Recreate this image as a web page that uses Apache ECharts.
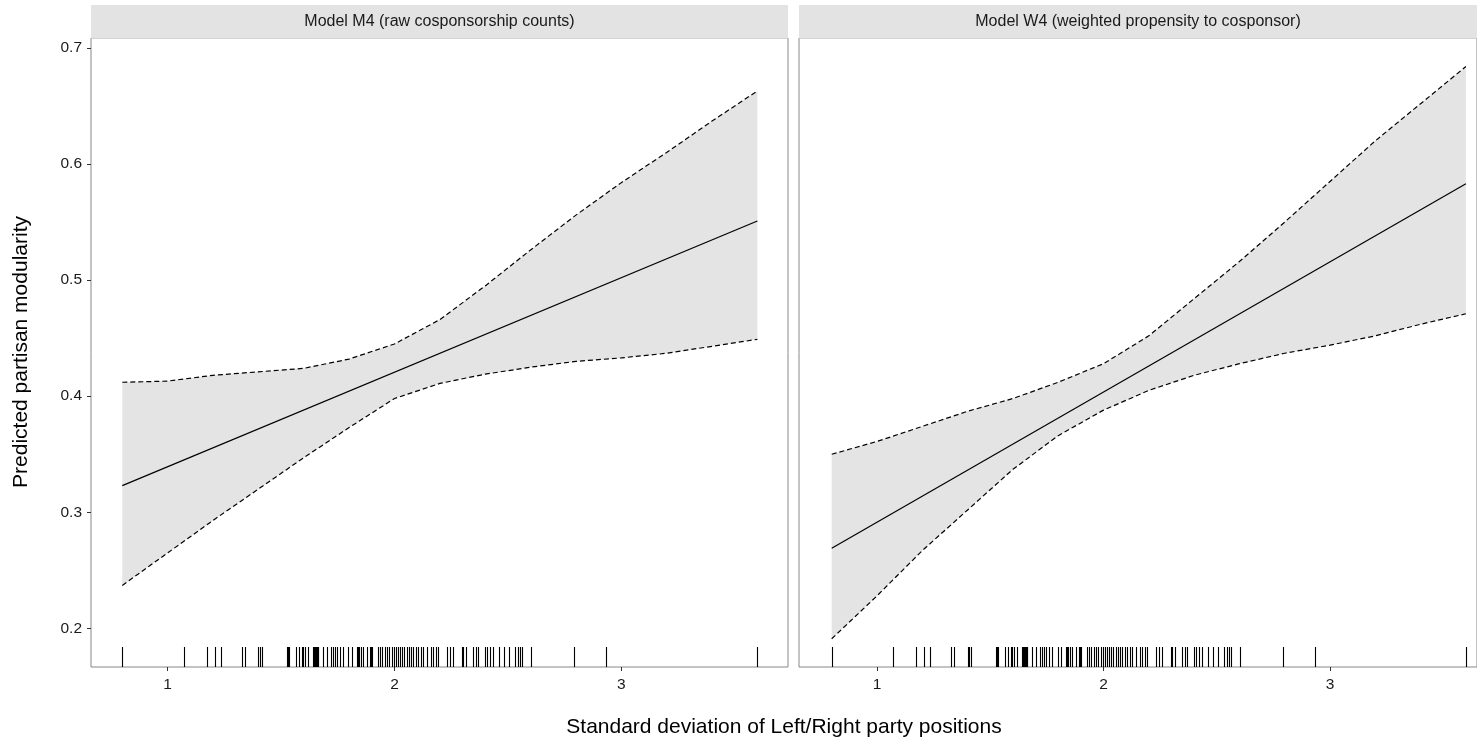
<!DOCTYPE html>
<html>
<head>
<meta charset="utf-8">
<script src="https://cdn.jsdelivr.net/npm/echarts@6/dist/echarts.min.js"></script>
<style>html,body{margin:0;padding:0;background:#fff;}#c{width:1477px;height:742px;}</style>
</head>
<body>
<div id="c"></div>
<script>
// ---------- data ----------
const panelTitles = ["Model M4 (raw cosponsorship counts)", "Model W4 (weighted propensity to cosponsor)"];
const xTitle = "Standard deviation of Left/Right party positions";
const yTitle = "Predicted partisan modularity";
const xTicks = [1, 2, 3];
const yTicks = [0.2, 0.3, 0.4, 0.5, 0.6, 0.7];

const xSeq = [0.8, 1.0, 1.2, 1.4, 1.6, 1.8, 2.0, 2.2, 2.4, 2.6, 2.8, 3.0, 3.2, 3.4, 3.6];
const fitX = [0.8, 3.6];

const m4Fit = [0.323, 0.551];
const m4Upper = [0.412, 0.413, 0.418, 0.421, 0.424, 0.432, 0.445, 0.466, 0.495, 0.526, 0.556, 0.584, 0.610, 0.637, 0.663];
const m4Lower = [0.237, 0.265, 0.293, 0.320, 0.347, 0.373, 0.398, 0.411, 0.419, 0.425, 0.430, 0.433, 0.437, 0.443, 0.449];

const w4Fit = [0.269, 0.583];
const w4Upper = [0.350, 0.361, 0.374, 0.387, 0.398, 0.412, 0.428, 0.452, 0.484, 0.516, 0.550, 0.585, 0.620, 0.652, 0.684];
const w4Lower = [0.191, 0.228, 0.267, 0.302, 0.337, 0.366, 0.388, 0.405, 0.418, 0.428, 0.437, 0.444, 0.452, 0.462, 0.471];

const rugX = [0.8, 1.072, 1.173, 1.209, 1.234, 1.326, 1.341, 1.400, 1.405, 1.415,
  1.525, 1.530, 1.535, 1.566, 1.580, 1.591, 1.598, 1.606, 1.620, 1.642, 1.646, 1.650, 1.654, 1.657, 1.661, 1.664,
  1.686, 1.701, 1.719, 1.728, 1.738, 1.745, 1.760, 1.774, 1.797, 1.811, 1.834, 1.839, 1.844,
  1.852, 1.863, 1.880, 1.892, 1.896, 1.899, 1.929, 1.936, 1.946, 1.958, 1.965, 1.976, 1.988,
  1.998, 2.007, 2.017, 2.024, 2.035, 2.043, 2.054, 2.064, 2.073, 2.083, 2.094, 2.105,
  2.116, 2.127, 2.142, 2.161, 2.171, 2.183, 2.193, 2.233, 2.245, 2.259, 2.296, 2.304,
  2.315, 2.348, 2.358, 2.370, 2.399, 2.409, 2.421, 2.433, 2.461, 2.483, 2.506, 2.531,
  2.546, 2.554, 2.561, 2.601, 2.793, 2.933, 3.600];

// ---------- layout ----------
const FONT = "Liberation Sans, Arial, sans-serif";
const Y_MIN = 0.1667, Y_MAX = 0.7086;
const grids = [
  { left: 91, top: 38, width: 697, height: 629 },
  { left: 799, top: 38, width: 678, height: 629 }
];
const xRanges = [[0.662, 3.735], [0.6556, 3.649]];

const chart = echarts.init(document.getElementById('c'), null, { renderer: 'canvas' });

const xAxes = grids.map((g, i) => ({
  type: 'value', gridIndex: i, min: xRanges[i][0], max: xRanges[i][1],
  axisLine: { show: false },
  splitLine: { show: false },
  axisTick: { show: true, customValues: xTicks, length: 4, lineStyle: { color: '#333', width: 1 } },
  axisLabel: { show: true, customValues: xTicks, color: '#1a1a1a', fontSize: 15.5, fontFamily: FONT, margin: 10 }
}));
const yAxes = grids.map((g, i) => ({
  type: 'value', gridIndex: i, min: Y_MIN, max: Y_MAX,
  axisLine: { show: false },
  splitLine: { show: false },
  axisTick: { show: i === 0, customValues: yTicks, length: 4, lineStyle: { color: '#333', width: 1 } },
  axisLabel: { show: i === 0, customValues: yTicks, color: '#1a1a1a', fontSize: 15.5, fontFamily: FONT, margin: 9,
    formatter: v => v.toFixed(1) }
}));

function panelSeries(idx, upper, lower, fit) {
  const s = [];
  s.push({
    type: 'custom', xAxisIndex: idx, yAxisIndex: idx, silent: true, z: 1,
    data: xSeq.map((x, i) => [x, lower[i], upper[i]]),
    renderItem: function (params, api) {
      if (params.dataIndex !== 0) return null;
      const pts = [];
      for (let i = 0; i < xSeq.length; i++) pts.push(api.coord([xSeq[i], upper[i]]));
      for (let i = xSeq.length - 1; i >= 0; i--) pts.push(api.coord([xSeq[i], lower[i]]));
      return { type: 'polygon', shape: { points: pts, smooth: 0 }, style: { fill: '#e4e4e4', stroke: null } };
    }
  });
  [upper, lower].forEach(arr => s.push({
    type: 'line', xAxisIndex: idx, yAxisIndex: idx, silent: true, symbol: 'none', z: 3,
    data: xSeq.map((x, i) => [x, arr[i]]),
    lineStyle: { color: '#000', width: 1.2, type: [5, 3] }
  }));
  s.push({
    type: 'line', xAxisIndex: idx, yAxisIndex: idx, silent: true, symbol: 'none', z: 4,
    data: fitX.map((x, i) => [x, fit[i]]),
    lineStyle: { color: '#000', width: 1.2 }
  });
  s.push({
    type: 'custom', xAxisIndex: idx, yAxisIndex: idx, silent: true, z: 5,
    data: rugX.map(x => [x]),
    renderItem: function (params, api) {
      const p = api.coord([api.value(0), Y_MIN]);
      const px = Math.round(p[0]) + 0.5;
      return { type: 'line', shape: { x1: px, y1: p[1], x2: px, y2: p[1] - 20 },
        style: { stroke: '#000', lineWidth: 1.1 } };
    }
  });
  return s;
}

const graphics = [];
grids.forEach((g, i) => {
  graphics.push({ type: 'rect', z: 10, shape: { x: g.left, y: 5, width: g.width, height: 33.5 },
    style: { fill: '#e3e3e3' }, silent: true });
});
graphics.push({ type: 'text', z: 11, x: 91 + 697 / 2, y: 22,
  style: { text: panelTitles[0], fill: '#1a1a1a', font: '16px ' + FONT, textAlign: 'center', textVerticalAlign: 'middle' } });
graphics.push({ type: 'text', z: 11, x: 799 + 678 / 2, y: 22,
  style: { text: panelTitles[1], fill: '#1a1a1a', font: '16px ' + FONT, textAlign: 'center', textVerticalAlign: 'middle' } });
graphics.push({ type: 'text', z: 11, x: 784, y: 727,
  style: { text: xTitle, fill: '#000', font: '21px ' + FONT, textAlign: 'center', textVerticalAlign: 'middle' } });
graphics.push({ type: 'text', z: 11, x: 21, y: 352, rotation: Math.PI / 2,
  style: { text: yTitle, fill: '#000', font: '21px ' + FONT, textAlign: 'center', textVerticalAlign: 'middle' } });

chart.setOption({
  animation: false,
  backgroundColor: '#fff',
  grid: grids.map(g => Object.assign({ show: true, borderColor: '#888', borderWidth: 1, backgroundColor: 'transparent', containLabel: false }, g)),
  xAxis: xAxes,
  yAxis: yAxes,
  series: [].concat(panelSeries(0, m4Upper, m4Lower, m4Fit), panelSeries(1, w4Upper, w4Lower, w4Fit)),
  graphic: graphics
});
</script>
</body>
</html>
